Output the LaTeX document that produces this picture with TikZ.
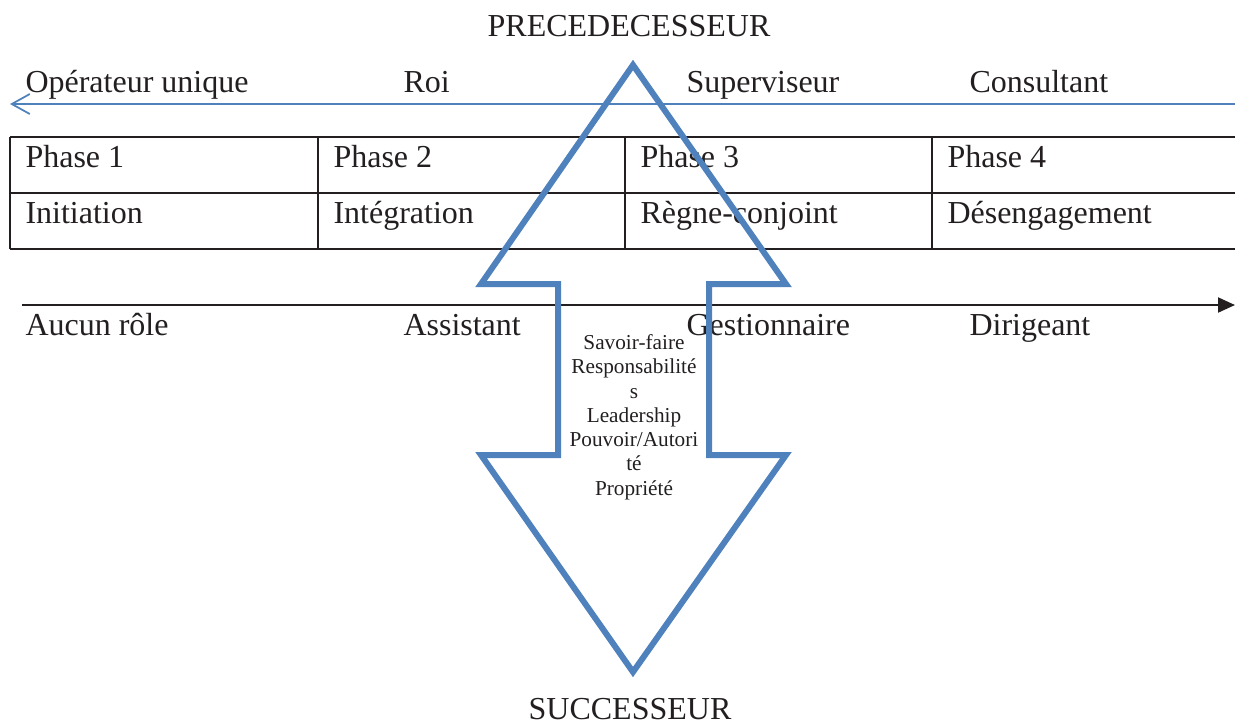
\documentclass[tikz,border=0pt]{standalone}
\usepackage{fontspec}
\setmainfont{Liberation Serif}
\usetikzlibrary{arrows.meta}
\usetikzlibrary{positioning}
\definecolor{roleblue}{RGB}{79,129,189}
\definecolor{ink}{RGB}{35,31,32}
\tikzset{
  lbl/.style={anchor=base west, inner sep=0pt, text=ink},
  title/.style={anchor=base, inner sep=0pt, text=ink},
  tabline/.style={draw=ink, line width=0.8pt},
  roleline/.style={draw=roleblue, line width=0.7pt, -{Straight Barb[length=7.2pt,width=8pt]}},
  axisline/.style={draw=ink, line width=0.8pt, -{Triangle[length=6.8pt,width=6pt]}},
  bigarrow/.style={draw=roleblue, line width=2.4pt, miter limit=10}
}

\begin{document}
\begin{tikzpicture}[x=0.4pt,y=-0.4pt,font=\fontsize{12.8}{15}\selectfont]
  \useasboundingbox (0,0) rectangle (1235,723);

  %titles
  \node[title] (prec) at (629,36) {PRECEDECESSEUR};
  \node[title] (succ) at (630,719) {SUCCESSEUR};

  %blue arrow with the roles of the predecessor
  \coordinate (roleR) at (1235,104);
  \coordinate (roleL) at (10,104);
  \draw[roleline] (roleR) -- (roleL);
  \node[lbl] (op)   at (25,92)  {Opérateur unique};
  \node[lbl] (roi)  at (403,92) {Roi};
  \node[lbl] (sup)  at (686,92) {Superviseur};
  \node[lbl] (cons) at (969,92) {Consultant};

  %table of phases
  \draw[tabline] (10,137) -- (1235,137);
  \draw[tabline] (10,193) -- (1235,193);
  \draw[tabline] (10,249) -- (1235,249);
  \foreach \x in {10,318,625,932}
    \draw[tabline] (\x,137) -- (\x,249);
  \foreach \i/\x/\stage in {1/25/Initiation,2/333/Intégration,3/640/Règne-conjoint,4/947/Désengagement}{
    \node[lbl] (phase\i) at (\x,167) {Phase \i};
    \node[lbl] (stage\i) at (\x,223) {\stage};
  }

  %black axis with the roles of the successor
  \coordinate (axL) at (22,305);
  \coordinate (axR) at (1235,305);
  \draw[axisline] (axL) -- (axR);
  \node[lbl] (aucun) at (25,335)  {Aucun rôle};
  \node[lbl] (assis) at (403,335) {Assistant};
  \node[lbl] (gest)  at (686,335) {Gestionnaire};
  \node[lbl] (dirig) at (969,335) {Dirigeant};

  %double arrow
  \draw[bigarrow] (633,65) -- (786,284) -- (709,284) -- (709,455) -- (786,455)
    -- (633,672) -- (481,455) -- (558,455) -- (558,284) -- (481,284) -- cycle;
  \node[title, align=center, font=\fontsize{8.5}{9.7}\selectfont] (transfer) at (634,495)
    {Savoir-faire\\Responsabilité\\s\\Leadership\\Pouvoir/Autori\\té\\Propriété};
\end{tikzpicture}
\end{document}
